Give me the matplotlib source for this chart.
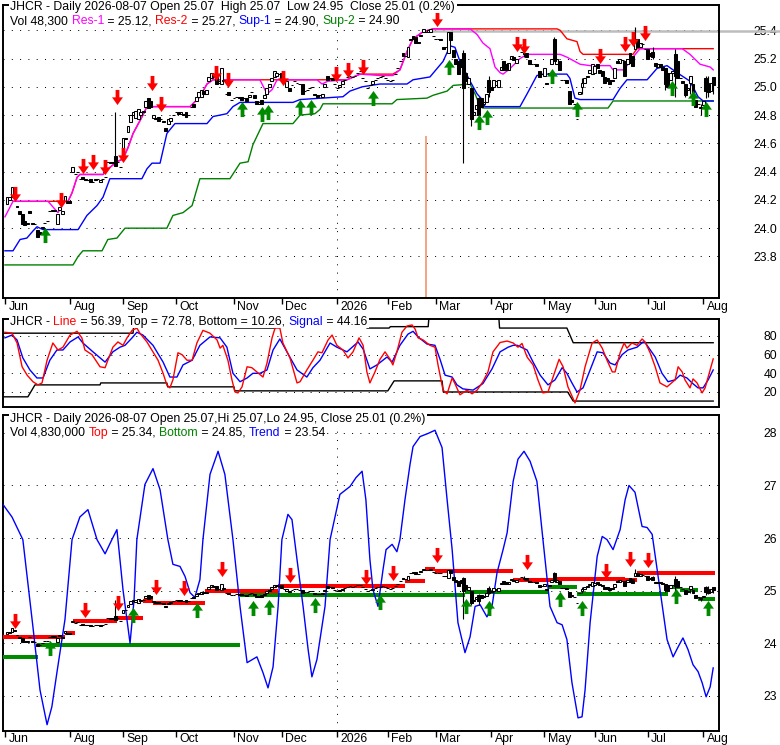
import matplotlib
matplotlib.use("Agg")
import matplotlib.pyplot as plt
import matplotlib.transforms as mtransforms
import numpy as np
from matplotlib.patches import Rectangle
from matplotlib.path import Path

# ---------------- data (x = trading-day index, 0 = 2025-06-26) ----------------
month_pos = [-0.8, 25, 46, 67, 90, 109, 131, 151, 170, 192, 213, 233, 254, 276]
month_names = ["Jun", "Aug", "Sep", "Oct", "Nov", "Dec", "2026", "Feb",
               "Mar", "Apr", "May", "Jun", "Jul", "Aug"]
year_pos = 130.8

opens = [
    24.17, 24.20, 24.22, 24.25, 24.16, 24.12, 24.10, 24.05, 24.03, 24.12,
    24.04, 24.03, 23.99, 23.97, 24.00, 24.04, 24.05, 24.12, 24.12, 24.13,
    24.03, 24.13, 24.10, 24.19, 24.19, 24.19, 24.40, 24.38, 24.40, 24.35,
    24.36, 24.35, 24.34, 24.35, 24.33, 24.34, 24.35, 24.33, 24.35, 24.36,
    24.47, 24.46, 24.47, 24.51, 24.47, 24.43, 24.57, 24.64, 24.68, 24.75,
    24.80, 24.78, 24.77, 24.80, 24.82, 24.86, 24.92, 24.90, 24.78, 24.78,
    24.79, 24.77, 24.76, 24.71, 24.74, 24.76, 24.80, 24.82, 24.82, 24.81,
    24.81, 24.82, 24.80, 24.86, 24.88, 24.90, 24.93, 24.93, 24.97, 24.95,
    25.04, 25.06, 25.09, 25.08, 25.03, 25.02, 25.05, 24.95, 24.96, 24.91,
    24.92, 24.93, 24.93, 24.93, 24.92, 24.92, 24.93, 24.96, 24.94, 24.90,
    24.88, 24.91, 24.92, 24.95, 25.00, 25.04, 25.07, 25.08, 25.09, 25.10,
    25.04, 25.00, 24.99, 25.01, 25.04, 25.03, 25.02, 25.02, 24.97, 24.98,
    24.99, 25.00, 24.95, 24.94, 24.94, 24.93, 25.00, 25.08, 25.06, 25.06,
    25.02, 24.99, 25.00, 25.02, 25.05, 25.07, 25.08, 25.07, 25.08, 25.10,
    25.11, 25.06, 25.04, 24.99, 25.01, 25.02, 25.05, 25.06, 25.07, 25.08,
    25.06, 25.05, 25.04, 25.05, 25.09, 25.13, 25.18, 25.24, 25.22, 25.21,
    25.33, 25.36, 25.35, 25.32, 25.36, 25.39, 25.39, 25.39, 25.39, 25.36,
    25.34, 25.34, 25.34, 25.28, 25.28, 25.24, 25.39, 25.26, 25.20, 25.18,
    25.20, 25.24, 25.10, 25.02, 24.99, 24.80, 24.84, 24.92, 24.92, 24.88,
    24.89, 25.05, 25.00, 25.00, 25.01, 25.00, 25.12, 25.18, 25.16, 25.12,
    25.20, 25.21, 25.17, 25.22, 25.25, 25.24, 25.24, 25.19, 25.16, 25.16,
    25.16, 25.11, 25.09, 25.08, 25.03, 25.10, 25.16, 25.34, 25.16, 25.18,
    25.05, 25.05, 25.05, 24.97, 24.91, 24.88, 24.77, 24.95, 25.00, 25.03,
    25.07, 25.10, 25.09, 25.10, 25.16, 25.12, 25.11, 25.07, 25.06, 25.05,
    25.05, 25.06, 25.18, 25.17, 25.19, 25.18, 25.16, 25.24, 25.22, 25.27,
    25.34, 25.28, 25.30, 25.27, 25.27, 25.24, 25.25, 25.17, 25.14, 25.16,
    25.14, 25.13, 25.10, 25.05, 25.10, 25.23, 25.18, 25.06, 25.04, 25.02,
    24.98, 25.03, 25.02, 24.91, 24.88, 24.85, 24.87, 25.06, 25.02, 24.97,
    25.07,
]
closes = [
    24.22, 24.22, 24.29, 24.24, 24.15, 24.10, 24.03, 24.02, 24.04, 24.11,
    24.03, 24.03, 23.94, 23.96, 24.01, 24.04, 24.05, 24.12, 24.13, 24.12,
    24.10, 24.15, 24.12, 24.23, 24.18, 24.18, 24.43, 24.38, 24.40, 24.35,
    24.35, 24.34, 24.34, 24.33, 24.33, 24.35, 24.35, 24.34, 24.35, 24.36,
    24.47, 24.47, 24.46, 24.44, 24.47, 24.43, 24.64, 24.63, 24.72, 24.80,
    24.82, 24.83, 24.84, 24.82, 24.83, 24.90, 24.85, 24.86, 24.80, 24.77,
    24.76, 24.77, 24.75, 24.69, 24.77, 24.78, 24.80, 24.82, 24.81, 24.82,
    24.80, 24.79, 24.80, 24.86, 24.86, 24.93, 24.96, 24.98, 24.95, 24.98,
    25.07, 25.10, 25.07, 25.02, 25.04, 25.13, 25.04, 24.95, 24.94, 24.91,
    24.92, 24.93, 24.92, 24.91, 24.92, 24.90, 24.94, 24.96, 24.92, 24.88,
    24.89, 24.88, 24.94, 24.99, 25.02, 25.06, 25.11, 25.10, 25.09, 25.05,
    25.04, 25.04, 24.97, 25.01, 25.04, 25.03, 25.02, 24.95, 24.97, 24.98,
    24.99, 25.00, 24.94, 24.93, 24.94, 24.95, 25.02, 25.05, 25.06, 25.05,
    25.02, 24.99, 25.01, 25.04, 25.05, 25.07, 25.08, 25.07, 25.08, 25.10,
    25.11, 25.06, 25.04, 24.99, 25.01, 25.04, 25.05, 25.06, 25.07, 25.08,
    25.06, 25.05, 25.04, 25.05, 25.09, 25.13, 25.18, 25.22, 25.22, 25.28,
    25.34, 25.34, 25.31, 25.31, 25.37, 25.41, 25.39, 25.40, 25.41, 25.36,
    25.34, 25.34, 25.33, 25.27, 25.28, 25.39, 25.33, 25.21, 25.16, 25.09,
    25.14, 24.99, 25.04, 25.06, 24.77, 24.82, 24.87, 24.80, 24.86, 24.89,
    24.95, 24.96, 24.98, 25.05, 25.04, 25.05, 25.14, 25.12, 25.12, 25.17,
    25.22, 25.19, 25.20, 25.22, 25.25, 25.23, 25.21, 25.16, 25.16, 25.16,
    25.15, 25.07, 25.09, 25.13, 25.02, 25.09, 25.20, 25.18, 25.20, 25.12,
    25.05, 25.05, 25.03, 24.88, 24.89, 24.88, 24.77, 24.96, 25.03, 25.06,
    25.08, 25.12, 25.16, 25.15, 25.13, 25.10, 25.08, 25.03, 25.04, 25.02,
    25.04, 25.13, 25.17, 25.20, 25.19, 25.08, 25.20, 25.17, 25.15, 25.34,
    25.28, 25.31, 25.30, 25.27, 25.20, 25.22, 25.21, 25.15, 25.16, 25.14,
    25.12, 25.02, 25.00, 25.10, 25.11, 25.08, 25.06, 25.06, 25.03, 24.94,
    24.99, 25.08, 24.95, 24.86, 24.88, 24.86, 24.90, 24.97, 24.96, 25.03,
    25.01,
]
# bars whose shadows reach past the body
wick_idx = [43, 181, 184, 187, 191, 205, 217, 228, 249, 256, 261, 265, 269, 271, 275, 277, 278, 280]
wick_hi = [24.82, 25.26, 24.99, 24.93, 25.08, 25.27, 25.35, 25.06, 25.42, 25.28, 25.13, 25.27, 25.02, 25.08, 24.88, 25.08, 25.08, 25.07]
wick_lo = [24.44, 24.46, 24.72, 24.72, 24.93, 25.21, 25.18, 24.95, 25.27, 25.20, 24.98, 24.93, 24.93, 24.95, 24.80, 24.92, 24.93, 24.95]

spike_idx = 166
spike_top = 24.65
high_mark = 25.395

res1_x = [-0.8, 2.4, 16.3, 20.2, 23.0, 24.2, 25.8, 27.8, 28.9, 38.1, 40.8, 43.6, 46.0, 48.0, 50.0, 52.7,
          53.9, 55.5, 72.6, 76.5, 79.3, 81.7, 100.3, 103.1, 105.1, 107.1, 122.9, 124.9, 127.3, 134.8,
          140.0, 147.9, 153.0, 155.8, 158.6, 161.0, 165.0, 168.9, 183.6, 186.4, 188.7, 191.5, 193.5,
          195.5, 196.7, 199.5, 203.4, 206.2, 219.3, 222.0, 227.2, 231.2, 239.1, 240.3, 244.3, 245.8,
          248.2, 251.0, 267.7, 270.8, 274.8, 278.8, 280.0]
res1_y = [24.08, 24.19, 24.19, 24.11, 24.19, 24.19, 24.25, 24.36, 24.38, 24.38, 24.43, 24.47, 24.49, 24.57,
          24.67, 24.76, 24.80, 24.86, 24.86, 24.93, 25.02, 25.05, 25.05, 24.95, 24.98, 25.05, 25.05, 25.02,
          25.04, 25.05, 25.09, 25.08, 25.08, 25.12, 25.25, 25.34, 25.39, 25.41, 25.41, 25.37, 25.31, 25.27,
          25.14, 25.10, 25.09, 25.13, 25.20, 25.23, 25.23, 25.21, 25.16, 25.15, 25.15, 25.12, 25.12, 25.15,
          25.21, 25.27, 25.27, 25.23, 25.16, 25.14, 25.12]
res2_x = [2.4, 24.2, 25.8, 27.8, 28.9, 38.1, 40.8, 43.6, 46.0, 48.0, 50.0, 52.7, 53.9, 55.5, 72.6, 76.5,
          79.3, 81.7, 134.8, 140.0, 153.0, 155.8, 158.6, 161.0, 165.0, 168.9, 218.1, 219.3, 222.0, 226.0,
          227.2, 228.4, 248.2, 249.8, 280.0]
res2_y = [24.19, 24.19, 24.25, 24.36, 24.38, 24.38, 24.43, 24.47, 24.49, 24.57, 24.67, 24.76, 24.80, 24.86,
          24.86, 24.93, 25.02, 25.05, 25.05, 25.09, 25.09, 25.12, 25.25, 25.34, 25.39, 25.41, 25.41, 25.40,
          25.34, 25.32, 25.25, 25.23, 25.23, 25.27, 25.27]
sup1_x = [-0.8, 2.4, 5.2, 7.9, 10.3, 11.9, 14.3, 28.2, 31.7, 35.7, 38.1, 40.8, 53.5, 55.5, 57.5, 60.7,
          63.4, 66.6, 79.3, 81.7, 87.2, 89.6, 92.4, 113.4, 116.2, 133.2, 136.0, 140.8, 147.9, 158.6,
          161.0, 167.7, 172.9, 175.7, 177.6, 179.6, 183.6, 186.4, 188.4, 189.5, 203.4, 206.2, 210.1,
          212.5, 222.0, 223.2, 225.2, 227.2, 240.3, 243.1, 245.8, 253.8, 257.7, 261.7, 265.7, 270.8,
          274.0, 276.0, 280.0]
sup1_y = [23.84, 23.84, 23.92, 23.93, 23.98, 24.01, 23.99, 23.99, 24.09, 24.16, 24.22, 24.35, 24.35, 24.42,
          24.46, 24.46, 24.67, 24.74, 24.74, 24.79, 24.81, 24.86, 24.89, 24.89, 24.91, 24.93, 24.97, 25.00,
          25.02, 25.02, 25.05, 25.07, 25.18, 25.29, 25.28, 25.18, 25.04, 24.95, 24.91, 24.86, 24.86, 24.95,
          25.08, 25.09, 25.09, 25.06, 24.92, 24.91, 24.91, 24.99, 25.05, 25.05, 25.13, 25.15, 25.10, 25.04,
          24.93, 24.90, 24.90]
sup2_x = [-0.8, 26.2, 28.2, 30.1, 37.7, 40.0, 43.6, 46.8, 63.4, 65.8, 69.8, 73.4, 76.5, 88.4, 92.4, 95.6,
          97.5, 101.5, 113.4, 116.2, 122.1, 124.1, 125.3, 152.7, 154.6, 166.5, 168.9, 174.5, 176.9, 183.6,
          185.6, 187.6, 188.7, 238.3, 240.3, 280.0]
sup2_y = [23.74, 23.74, 23.80, 23.84, 23.84, 23.92, 23.93, 24.00, 24.00, 24.09, 24.11, 24.16, 24.35, 24.35,
          24.46, 24.47, 24.59, 24.74, 24.74, 24.80, 24.81, 24.84, 24.88, 24.88, 24.91, 24.92, 24.94, 24.97,
          25.01, 25.02, 24.95, 24.86, 24.85, 24.85, 24.90, 24.90]

top_sell_x = [3.2, 21.4, 30.2, 34.1, 38.9, 43.6, 46.0, 57.5, 61.1, 82.9, 87.6, 109.5, 130.5, 135.2, 141.2,
              170.5, 202.2, 205.0, 235.1, 245.1, 248.2, 253.0]
top_sell_y = [24.24, 24.20, 24.44, 24.47, 24.43, 24.93, 24.52, 25.03, 24.88, 25.10, 25.05, 25.06, 25.09,
              25.12, 25.14, 25.48, 25.30, 25.29, 25.22, 25.30, 25.34, 25.38]
top_buy_x = [15.1, 93.2, 101.1, 103.5, 116.2, 120.6, 145.1, 175.3, 187.2, 190.3, 216.1, 226.0, 263.7, 272.0, 277.2]
top_buy_y = [23.95, 24.84, 24.81, 24.82, 24.86, 24.86, 24.92, 25.14, 24.75, 24.79, 25.08, 24.84, 24.99, 24.92, 24.84]

# oscillator panel
line_x = [-0.8, 2, 4, 6, 8, 10.3, 12.3, 13.9, 15.9, 18.2, 20.2, 22.2, 25, 27.8, 29.7, 30.9, 33.7, 36.9,
          38.9, 40, 42, 44, 46, 47.6, 49.6, 51.5, 52.7, 55.5, 57.9, 59.9, 61.9, 63.4, 64.6, 65.8, 67.8,
          69.4, 71.4, 73.4, 75.3, 77.7, 80.5, 83.3, 84.5, 85.6, 87.6, 89.2, 90.4, 91.6, 93.2, 95.2, 97.1,
          99.1, 101.5, 103.1, 105.1, 106.3, 108.2, 109.4, 112.2, 115, 116.2, 118.9, 121.3, 123.3, 124.9,
          127.3, 128.9, 130.8, 133.2, 135.2, 137.2, 139.6, 141.2, 142.7, 143.9, 145.9, 147.9, 149.9, 151.9,
          153, 154.6, 156.6, 158.6, 160.6, 161.8, 163, 165, 167.7, 169.7, 170.9, 172.9, 174.5, 176.5, 177.6,
          179.6, 182.4, 184.4, 186.4, 188.7, 190.7, 192.7, 195.5, 198.3, 200.7, 202.6, 204.2, 206.2, 208.6,
          210.5, 212.5, 214.5, 216.5, 218.9, 220.5, 222.4, 225.2, 227.2, 229.2, 232, 234, 236, 237.9, 240,
          241.1, 243.1, 244.7, 245.8, 247.8, 249.8, 251.8, 253, 255, 257, 258.9, 261.7, 264.9, 266.1, 267.7,
          268.8, 270.8, 272, 273.6, 275.6, 276.8, 278.8, 280]
line_y = [84, 83, 72.5, 47, 38, 31, 27.6, 29.7, 54, 72.5, 65, 68, 81, 85, 78, 65, 60, 47, 46, 54, 68, 73.6,
          70, 78, 86, 88.5, 83, 73.6, 63, 54, 40, 27.6, 24.4, 33, 62, 60, 54, 54, 72.5, 86, 83, 75.7, 67, 70,
          54, 33, 20, 19, 25.5, 47, 46, 41.5, 36, 51, 78, 88.5, 88.5, 72.5, 56.5, 29.7, 31, 43.6, 54, 63, 62,
          75.7, 81, 70, 65, 56.5, 63, 78, 70, 41.5, 29.7, 41.5, 55, 63, 55, 49, 63, 84, 90.7, 91.8, 87.5, 78,
          75.7, 70, 68, 49, 22, 18, 35, 29, 17, 22, 18, 22, 31, 41.5, 63, 73, 74.6, 72.5, 68, 72, 57.5, 49,
          33, 19, 20, 36, 55, 47, 25.5, 8.3, 22, 47, 72.5, 75.7, 67, 54, 41.5, 41.5, 62, 72.5, 67, 72.5, 70,
          76.8, 73.6, 62, 47, 29.7, 25.5, 33, 47, 41.5, 33, 24.4, 34, 29.7, 19, 24.4, 43.6, 55.4]
signal_x = [-0.8, 2, 4, 6.3, 9.1, 11.9, 14.3, 17, 19.8, 22.2, 25, 28.2, 30.1, 34.1, 38.9, 42, 44.8, 46.8,
            49.6, 51.5, 53.9, 57.9, 61.9, 64.6, 67.4, 69.8, 73.4, 76.5, 80.5, 84.5, 87.2, 89.6, 92.4, 95.2,
            97.5, 100.3, 103.1, 105.5, 108.2, 111, 115, 118.9, 121.3, 124.1, 128.1, 130.8, 134.8, 139.2,
            141.2, 143.9, 146.7, 150.7, 152.7, 155.8, 159, 161, 163, 166.5, 169.7, 171.7, 173.7, 176.5,
            178.4, 180.8, 184.8, 188.7, 192.3, 195.5, 198.7, 200.7, 202.3, 206.2, 208.6, 211.4, 214.5,
            217.3, 220.1, 222, 224, 226, 228.4, 231.2, 234, 236.3, 239.1, 241.1, 243.9, 246.2, 249.8, 252.2,
            253, 257, 259.7, 262.1, 264.9, 266.9, 269.6, 271.6, 274, 276, 278, 280]
signal_y = [78, 81, 75.7, 56.5, 43.6, 35, 35, 54, 65, 65, 73.6, 79, 72.5, 63, 52, 63, 68, 70, 78, 84, 81,
            70, 52, 36, 36, 49, 54, 70, 79, 78, 68, 40, 31, 35, 40, 40, 43.6, 65, 76.8, 63, 43.6, 36, 46, 54,
            72.5, 68, 63, 73.6, 66, 44.7, 49, 57.5, 52, 70, 82, 85, 79, 71.4, 70, 55, 38, 36, 27.6, 23.3, 22,
            29, 44.7, 63, 68, 70, 70, 65, 52, 38, 27.6, 33, 46, 40, 29.7, 20, 24.4, 43.6, 63, 62, 51, 49, 60,
            65, 68, 73.6, 73, 57.5, 40, 31, 33, 38, 35, 29.7, 24.4, 24.4, 33, 43.6]
band_top_x = [-1.6, 50, 50.5, 90, 90.2, 106.3, 106.5, 142.5, 142.7, 151.5, 152, 167, 167.3, 195, 195.3,
              222, 224.5, 280]
band_top_y = [83, 83, 100, 100, 88.5, 88.5, 100, 100, 88.5, 88.5, 90, 90, 100, 100, 88.5, 88.5, 72.78, 72.78]
band_bot_x = [-1.6, 8.3, 11.1, 36.9, 37.2, 63.4, 63.7, 90, 90.3, 151, 153.5, 172.5, 173, 222.3, 224.5, 280]
band_bot_y = [14.8, 14.8, 27.6, 27.6, 29.7, 29.7, 25.5, 25.5, 21.2, 21.2, 31.9, 31.9, 20.0, 20.0, 10.26, 10.26]

# trend panel
trend_x = [-1.6, 2.0, 6.3, 10.3, 13.1, 15.9, 17.8, 19.8, 23.0, 25.8, 28.9, 32.1, 35.7, 38.9, 41.6, 43.6,
           46.0, 48.8, 50.4, 51.5, 54.7, 57.9, 60.7, 63.8, 65.8, 68.6, 70.6, 72.6, 74.5, 76.5, 77.7, 80.5,
           83.7, 86.4, 89.6, 92.4, 95.2, 99.1, 101.5, 103.5, 105.5, 107.5, 109.0, 111.4, 113.0, 115.0, 117.4,
           119.4, 120.9, 122.9, 126.1, 128.1, 132.0, 136.0, 138.4, 140.8, 142.3, 143.9, 145.1, 147.1, 149.1,
           150.3, 152.7, 154.6, 155.8, 157.8, 159.8, 161.0, 163.8, 167.0, 169.7, 172.5, 174.5, 176.5, 178.8,
           181.6, 183.6, 185.6, 187.6, 190.3, 192.3, 194.3, 196.7, 198.3, 200.7, 202.6, 205.0, 207.4, 210.1,
           212.5, 215.3, 218.1, 220.1, 222.0, 224.0, 226.4, 228.0, 229.2, 231.2, 234.0, 236.0, 237.9, 240.3,
           243.1, 245.1, 246.6, 249.0, 251.8, 253.8, 255.8, 258.9, 261.7, 264.1, 266.1, 268.0, 270.0, 272.0,
           274.0, 275.6, 277.2, 278.8, 280.0]
trend_y = [26.64, 26.4, 25.97, 24.31, 23.11, 22.45, 22.79, 23.44, 24.45, 25.97, 26.4, 26.54, 25.97, 25.7,
           25.97, 26.16, 25.02, 24.0, 24.83, 25.97, 27.02, 27.32, 26.92, 25.97, 25.5, 25.46, 25.27, 24.96,
           24.87, 25.21, 25.97, 27.21, 27.65, 27.21, 25.97, 24.7, 23.63, 23.74, 23.44, 23.15, 23.55, 24.7,
           25.97, 26.45, 26.35, 25.59, 24.7, 23.88, 23.36, 23.69, 24.7, 25.97, 26.83, 26.98, 27.15, 27.27,
           26.73, 25.59, 25.02, 24.7, 25.4, 25.78, 25.88, 25.74, 25.97, 26.73, 27.4, 27.74, 27.93, 27.99,
           28.05, 27.72, 26.73, 25.78, 24.39, 23.82, 24.12, 24.7, 24.73, 24.5, 24.7, 25.34, 25.78, 26.1,
           27.08, 27.5, 27.65, 27.46, 27.08, 25.97, 24.7, 24.39, 24.35, 24.07, 23.25, 22.58, 22.6, 23.11,
           24.39, 25.65, 26.03, 25.97, 25.78, 26.16, 26.73, 27.0, 26.87, 26.22, 26.2, 26.07, 25.02, 24.07,
           23.74, 23.93, 24.1, 23.88, 23.59, 23.46, 23.25, 22.98, 23.17, 23.53]
top_seg_start = [-1.6, 23.0, 26.2, 43.6, 53.9, 57.9, 78.5, 107.5, 157.8, 165.7, 169.7, 200.7, 216.5, 245.1, 249.8]
top_seg_end = [23.0, 27.0, 43.6, 53.9, 57.9, 78.5, 107.5, 157.8, 165.7, 169.7, 200.7, 216.5, 245.1, 249.8, 280.7]
top_seg_lvl = [24.12, 24.20, 24.43, 24.48, 24.81, 24.77, 25.00, 25.08, 25.19, 25.42, 25.38, 25.21, 25.23, 25.21, 25.34]
bot_seg_start = [-1.6, 12.3, 92.4, 181.6, 214.5, 226.0, 262.1, 266.9, 274.0]
bot_seg_end = [12.3, 92.4, 181.6, 214.5, 226.0, 262.1, 266.9, 274.0, 280.7]
bot_seg_lvl = [23.74, 23.97, 24.92, 24.98, 25.06, 24.94, 25.06, 25.01, 24.85]
bot_sell_x = [3.2, 30.9, 44.0, 59.1, 70.2, 85.3, 112.2, 142.3, 153.0, 170.5, 206.2, 237.5, 247.0, 254.2]
bot_sell_y = [24.43, 24.64, 24.76, 25.07, 25.05, 25.42, 25.29, 25.25, 25.34, 25.67, 25.55, 25.38, 25.61, 25.59]
bot_buy_x = [17.0, 50.0, 75.3, 97.5, 103.9, 122.1, 147.9, 182.0, 191.2, 219.3, 228.0, 265.3, 278.0]
bot_buy_y = [23.90, 24.54, 24.64, 24.66, 24.68, 24.73, 24.79, 24.70, 24.66, 24.85, 24.66, 24.89, 24.66]

K = "black"
MAGENTA = "#ff00ff"
RED = "#ff0000"
BLUE = "#0000ff"
GREEN = "#008000"
ARROW_GREEN = "#008a00"

header_top_1 = [("JHCR - Daily 2026-08-07 Open 25.07  High 25.07  Low 24.95  Close 25.01 (0.2%)", K)]
header_top_2 = [("Vol 48,300 ", K), ("Res-1", MAGENTA), (" = 25.12, ", K), ("Res-2", RED),
                (" = 25.27, ", K), ("Sup-1", BLUE), (" = 24.90, ", K), ("Sup-2", GREEN), (" = 24.90", K)]
header_mid = [("JHCR - ", K), ("Line", RED), (" = 56.39, Top = 72.78, Bottom = 10.26, ", K),
              ("Signal", BLUE), (" = 44.16", K)]
header_bot_1 = [("JHCR - Daily 2026-08-07 Open 25.07,Hi 25.07,Lo 24.95, Close 25.01 (0.2%)", K)]
header_bot_2 = [("Vol 4,830,000 ", K), ("Top", RED), (" = 25.34, ", K), ("Bottom", GREEN),
                (" = 24.85, ", K), ("Trend", BLUE), (" = 23.54", K)]

# ---------------- figure ----------------
FS = 8.8
W, H = 780, 745
XMIN, XMAX = -1.57, 282.3
DOT = (0, (1, 7.3))

plt.rcParams["font.family"] = ["Liberation Sans", "DejaVu Sans"]
plt.rcParams["font.size"] = FS

fig = plt.figure(figsize=(W / 100, H / 100), dpi=100)


def add_panel(top, bottom, left=3, right=719):
    ax = fig.add_axes([left / W, 1 - bottom / H, (right - left) / W, (bottom - top) / H])
    for sp in ax.spines.values():
        sp.set_linewidth(1.4)
        sp.set_color(K)
    ax.yaxis.tick_right()
    ax.tick_params(axis="y", length=0, pad=41.8, labelsize=FS)
    ax.grid(axis="y", color=K, linestyle=DOT, linewidth=0.72)
    ax.set_axisbelow(True)
    return ax


def right_labels(ax, ticks, fmt):
    ax.set_yticks(ticks)
    ax.set_yticklabels([fmt.format(t) for t in ticks])
    for lab in ax.get_yticklabels():
        lab.set_horizontalalignment("right")


def month_axis(ax, drop_px):
    ax.set_xticks(month_pos)
    ax.tick_params(axis="x", direction="out", length=4.3, width=1.0, labelbottom=False)
    trans = mtransforms.blended_transform_factory(ax.transData, ax.transAxes)
    off = mtransforms.ScaledTranslation(3.5 / 100, -drop_px / 100, fig.dpi_scale_trans)
    for pos, name in zip(month_pos, month_names):
        ax.text(pos, 0, name, transform=trans + off, ha="left", va="top", fontsize=FS, clip_on=False)


def draw_candles(ax):
    o = np.asarray(opens, dtype=float)
    c = np.asarray(closes, dtype=float)
    hi = np.maximum(o, c)
    lo = np.minimum(o, c)
    for i, h, l in zip(wick_idx, wick_hi, wick_lo):
        hi[i] = max(hi[i], h)
        lo[i] = min(lo[i], l)
    x = np.arange(len(c))
    ax.vlines(x, lo, hi, colors=K, linewidth=0.8, zorder=5)
    up = c >= o
    ax.bar(x[up], (c - o)[up], bottom=o[up], width=1.15, facecolor="white",
           edgecolor=K, linewidth=0.75, zorder=5.1)
    ax.bar(x[~up], (o - c)[~up], bottom=c[~up], width=1.15, facecolor=K,
           edgecolor=K, linewidth=0.75, zorder=5.1)


ARROW_DOWN = Path([(-0.25, 1.0), (0.25, 1.0), (0.25, 0.02), (0.72, 0.02), (0.0, -1.0),
                   (-0.72, 0.02), (-0.25, 0.02), (-0.25, 1.0)], closed=True)
ARROW_UP = Path([(vx, -vy) for vx, vy in ARROW_DOWN.vertices], closed=True)


def arrows(ax, xs, ys, down, color):
    ax.scatter(xs, ys, marker=ARROW_DOWN if down else ARROW_UP, s=118, c=color,
               linewidths=0, zorder=7)


# ---- price panel ----
ax1 = add_panel(5, 298)
ax1.bar([spike_idx], [spike_top - 23.0], bottom=23.0, width=0.8, color="#f5a585", zorder=1)
ax1.axvline(year_pos, color=K, linestyle=DOT, linewidth=0.72, zorder=1)
ax1.plot([spike_idx, 320], [high_mark, high_mark], color="#bdbdbd", lw=1.8, clip_on=False, zorder=2)
ax1.plot(sup2_x, sup2_y, color=GREEN, lw=1.0, zorder=3)
ax1.plot(sup1_x, sup1_y, color=BLUE, lw=1.0, zorder=3)
ax1.plot(res2_x, res2_y, color=RED, lw=1.0, zorder=3)
ax1.plot(res1_x, res1_y, color=MAGENTA, lw=1.0, zorder=3.2)
draw_candles(ax1)
arrows(ax1, top_sell_x, top_sell_y, True, RED)
arrows(ax1, top_buy_x, top_buy_y, False, ARROW_GREEN)
ax1.set_xlim(XMIN, XMAX)
ax1.set_ylim(23.506, 25.579)
right_labels(ax1, [23.8, 24.0, 24.2, 24.4, 24.6, 24.8, 25.0, 25.2, 25.4], "{:.1f}")
month_axis(ax1, 3)

# ---- oscillator panel ----
ax2 = add_panel(319, 407)
ax2.plot(band_top_x, band_top_y, color=K, lw=1.0, zorder=2)
ax2.plot(band_bot_x, band_bot_y, color=K, lw=1.0, zorder=2)
ax2.plot(signal_x, signal_y, color=BLUE, lw=1.0, zorder=3)
ax2.plot(line_x, line_y, color=RED, lw=1.0, zorder=4)
ax2.set_xlim(XMIN, XMAX)
ax2.set_ylim(3.9, 98.2)
ax2.set_xticks([])
right_labels(ax2, [20, 40, 60, 80], "{:d}")

# ---- trend panel ----
ax3 = add_panel(415, 731)
ax3.axvline(year_pos, color=K, linestyle=DOT, linewidth=0.72, zorder=1)
ax3.hlines(bot_seg_lvl, bot_seg_start, bot_seg_end, colors=ARROW_GREEN, lw=2.9, zorder=3)
ax3.hlines(top_seg_lvl, top_seg_start, top_seg_end, colors=RED, lw=2.9, zorder=3)
ax3.plot(trend_x, trend_y, color=BLUE, lw=1.0, zorder=3.5)
draw_candles(ax3)
arrows(ax3, bot_sell_x, bot_sell_y, True, RED)
arrows(ax3, bot_buy_x, bot_buy_y, False, ARROW_GREEN)
ax3.set_xlim(XMIN, XMAX)
ax3.set_ylim(22.33, 28.34)
right_labels(ax3, [23, 24, 25, 26, 27, 28], "{:d}")
month_axis(ax3, 2)

# ---- headers (multi-coloured, drawn over the frame) ----
renderer = fig.canvas.get_renderer()


def advance(s):
    a = fig.text(0, 0, "|" + s + "|", fontsize=FS)
    b = fig.text(0, 0, "||", fontsize=FS)
    w = a.get_window_extent(renderer).width - b.get_window_extent(renderer).width
    a.remove()
    b.remove()
    return w


def header(x0, base, pieces):
    x = x0
    for s, col in pieces:
        fig.text(x / W, 1 - base / H, s, color=col, fontsize=FS, ha="left", va="baseline", zorder=4)
        x += advance(s)
    fig.add_artist(Rectangle(((x0 - 1) / W, 1 - (base + 3) / H), (x - x0 + 3) / W, 13.5 / H,
                             transform=fig.transFigure, facecolor="white", edgecolor="none", zorder=2))


header(10, 10.2, header_top_1)
header(10.5, 24.2, header_top_2)
header(10, 324.5, header_mid)
header(10, 422.2, header_bot_1)
header(10.5, 435.8, header_bot_2)

fig.savefig("out.png", dpi=100)
